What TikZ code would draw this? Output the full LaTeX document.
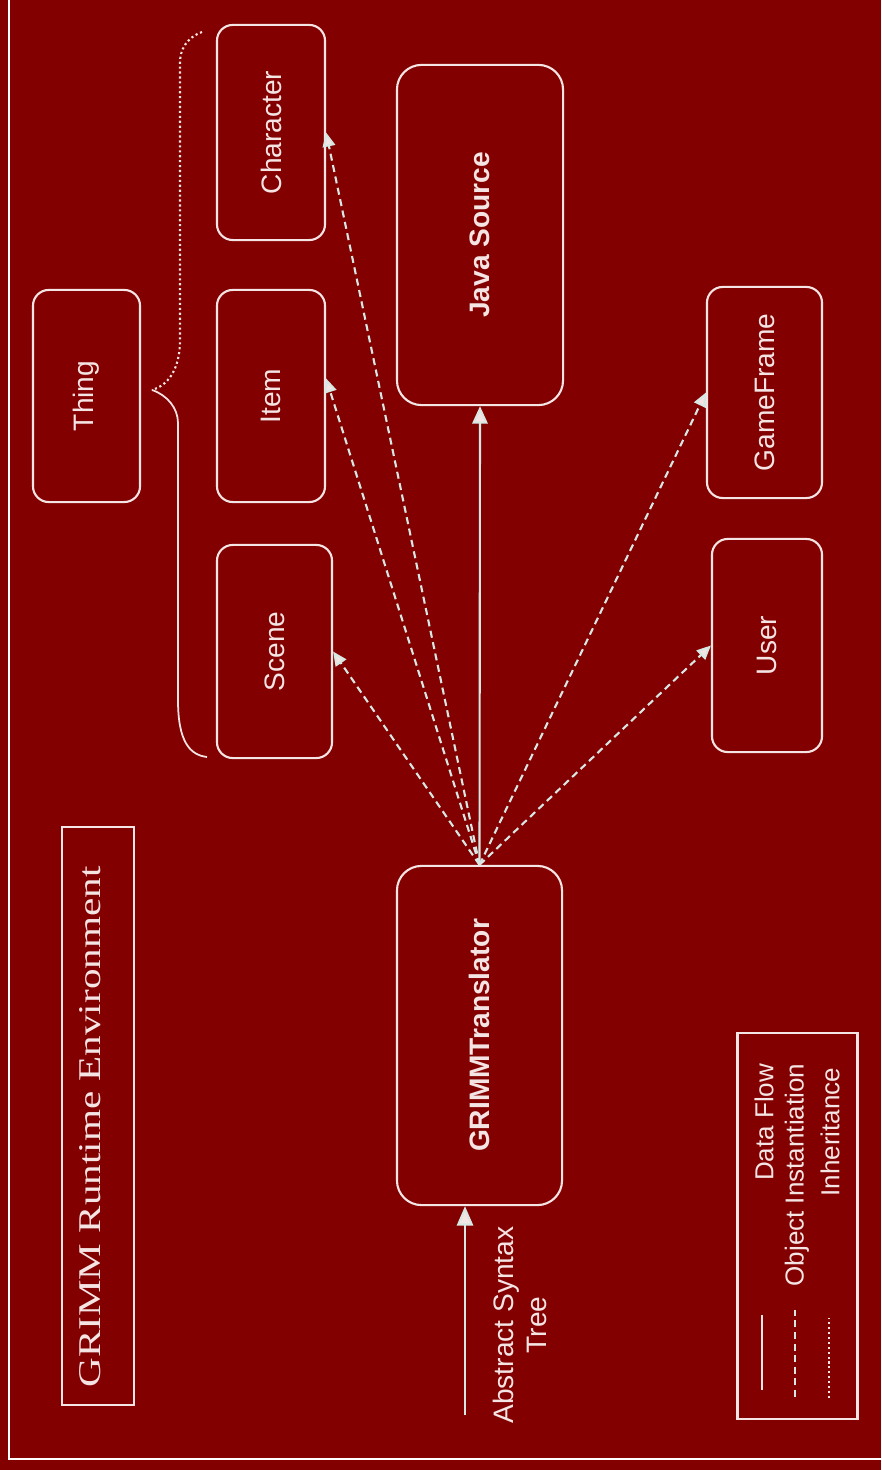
\documentclass[tikz,border=0pt]{standalone}
\usepackage{fontspec}
\usepackage{graphicx}
\setmainfont{Liberation Sans}
\newfontfamily\titlefont{Liberation Serif}
\usetikzlibrary{arrows.meta}
\definecolor{bg}{RGB}{130,0,0}
\definecolor{fg}{RGB}{245,228,228}
\definecolor{ln}{RGB}{215,232,228}
\tikzset{
  box/.style={draw=fg, line width=0.6pt, rounded corners=4.5pt, inner sep=0pt, text=fg,
    font=\fontsize{8}{9.6}\selectfont},
  bigbox/.style={box, rounded corners=7pt, font=\fontsize{8}{9.6}\selectfont\bfseries},
  flow/.style={draw=ln, line width=0.6pt, -{Triangle[length=5pt,width=4.4pt,fill=fg]}},
  inst/.style={draw=ln, line width=0.6pt, dash pattern=on 2pt off 1.3pt,
    -{Triangle[length=4pt,width=3.6pt,fill=fg]}},
  inh/.style={draw=fg, line width=0.6pt, dash pattern=on 0.6pt off 0.8pt},
  plainline/.style={draw=fg, line width=0.6pt},
  lbl/.style={text=fg, rotate=90, inner sep=0pt, font=\fontsize{8}{9.4}\selectfont},
  leglbl/.style={lbl, font=\fontsize{7.4}{9}\selectfont},
}
\begin{document}
\begin{tikzpicture}[x=0.01cm, y=-0.01cm]
\fill[bg] (0,0) rectangle (881,1470);
\useasboundingbox (0,0) rectangle (881,1470);
\draw[white, line width=0.6pt] (9,0) -- (9,1459) -- (881,1459);

% title
\node[draw=fg, line width=0.6pt, minimum width=0.72cm, minimum height=5.78cm, inner sep=0pt] (titlebox) at (98,1116) {};
\node[text=fg, inner sep=0pt] (title) at (90,1127)
  {\rotatebox{90}{\scalebox{1.3}[1]{\titlefont\fontsize{9}{10}\selectfont GRIMM Runtime Environment}}};

% boxes
\node[box, minimum width=1.07cm, minimum height=2.12cm] (thing) at (86.5,396) {\rotatebox{90}{Thing}};
\node[box, minimum width=1.15cm, minimum height=2.13cm] (scene) at (274.5,651.5) {\rotatebox{90}{Scene}};
\node[box, minimum width=1.08cm, minimum height=2.12cm] (item) at (271,396) {\rotatebox{90}{Item}};
\node[box, minimum width=1.08cm, minimum height=2.15cm] (character) at (271,132.5) {\rotatebox{90}{Character}};
\node[bigbox, minimum width=1.66cm, minimum height=3.40cm] (java) at (480,235) {\rotatebox{90}{Java Source}};
\node[box, minimum width=1.15cm, minimum height=2.11cm] (gameframe) at (764.5,392.5) {\rotatebox{90}{GameFrame}};
\node[box, minimum width=1.10cm, minimum height=2.13cm] (user) at (767,645.5) {\rotatebox{90}{User}};
\node[bigbox, minimum width=1.65cm, minimum height=3.39cm] (trans) at (479.5,1035.5) {\rotatebox{90}{GRIMMTranslator}};

% brace
\draw[inh] (202,32) .. controls (186,38) and (180,50) .. (180,63) -- (180,340)
  .. controls (180,372) and (166,386) .. (152,390);
\draw[plainline, line width=0.5pt] (152,390) .. controls (167,395) and (178,408) .. (178,423) -- (178,700)
  .. controls (178,742) and (190,755) .. (207,757);

% connectors
\draw[flow] (trans.north) -- (java.south);
\draw[inst] (trans.north) -- (scene.east);
\draw[inst] (trans.north) -- ([yshift=5pt]item.east);
\draw[inst] (trans.north) -- (character.east);
\draw[inst] (trans.north) -- (gameframe.west);
\draw[inst] (trans.north) -- (user.west);

\coordinate (ast) at (465,1415);
\draw[flow, -{Triangle[length=5.5pt,width=4.6pt,fill=fg]}] (ast) -- (ast |- trans.south);
\node[lbl, align=center] (astlabel) at (520,1325) {Abstract Syntax\\Tree};

% legend
\node[draw=fg, line width=0.6pt, minimum width=1.20cm, minimum height=3.85cm, inner sep=0pt] (legend) at (797.5,1226) {};
\node[leglbl, anchor=east] (lg1) at (764,1063) {Data Flow};
\node[leglbl, anchor=east] (lg2) at (797,1063) {Object Instantiation};
\node[leglbl, anchor=east] (lg3) at (830,1067) {Inheritance};
\coordinate (s1) at (762,1390); \coordinate (e1) at (762,1315);
\coordinate (s2) at (795,1397); \coordinate (e2) at (795,1310);
\coordinate (s3) at (829,1398); \coordinate (e3) at (829,1318);
\draw[plainline] (s1) -- (e1);
\draw[draw=ln, line width=0.6pt, dash pattern=on 2pt off 1.3pt] (s2) -- (e2);
\draw[inh] (s3) -- (e3);
\end{tikzpicture}
\end{document}
